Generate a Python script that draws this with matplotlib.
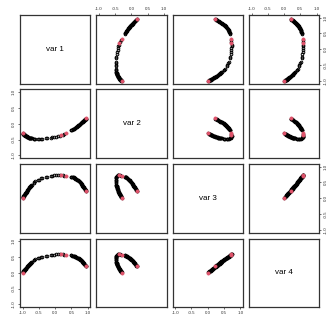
import numpy as np
import matplotlib
matplotlib.use('Agg')
import matplotlib.pyplot as plt

plt.rcParams['font.family'] = ['Liberation Sans', 'DejaVu Sans']

# points along the curve; the first 60 run along var 1,
# the rest fill in the two dense stretches at the ends
var1 = [-1.00, -0.99, -0.98, -0.97, -0.96, -0.95, -0.94, -0.93, -0.91, -0.90,
        -0.88, -0.86, -0.84, -0.82, -0.80, -0.78, -0.76, -0.74, -0.72, -0.66,
        -0.64, -0.62, -0.53, -0.51, -0.42, -0.40, -0.28, -0.26, -0.14, -0.10,
        -0.02, 0.04, 0.09, 0.14, 0.19, 0.24, 0.28, 0.33, 0.48, 0.52,
        0.55, 0.58, 0.61, 0.64, 0.67, 0.70, 0.72, 0.74, 0.76, 0.78,
        0.80, 0.82, 0.84, 0.86, 0.88, 0.90, 0.92, 0.93, 0.94, 0.95,
        -0.995, -0.985, -0.975, -0.965, -0.955, -0.945, -0.935, -0.92, -0.905,
        -0.89, -0.87, -0.85, -0.83, -0.81, -0.79, -0.77, -0.75, -0.73,
        0.50, 0.535, 0.565, 0.595, 0.625, 0.655, 0.685, 0.71, 0.73, 0.75,
        0.77, 0.79, 0.81, 0.83, 0.85, 0.87, 0.89, 0.91, 0.935, 0.945]
var2 = [-0.30, -0.31, -0.32, -0.33, -0.34, -0.35, -0.36, -0.37, -0.38, -0.39,
        -0.40, -0.41, -0.42, -0.43, -0.44, -0.45, -0.45, -0.46, -0.46, -0.47,
        -0.47, -0.48, -0.48, -0.48, -0.47, -0.47, -0.46, -0.46, -0.44, -0.43,
        -0.42, -0.41, -0.40, -0.39, -0.37, -0.35, -0.33, -0.30, -0.21, -0.19,
        -0.17, -0.15, -0.13, -0.11, -0.09, -0.06, -0.04, -0.03, -0.01, 0.01,
        0.03, 0.05, 0.06, 0.08, 0.10, 0.12, 0.14, 0.15, 0.16, 0.17,
        -0.305, -0.315, -0.325, -0.335, -0.345, -0.355, -0.365, -0.375, -0.385,
        -0.395, -0.405, -0.415, -0.425, -0.435, -0.445, -0.45, -0.455, -0.46,
        -0.20, -0.18, -0.16, -0.14, -0.12, -0.10, -0.075, -0.05, -0.035, -0.02,
        0.00, 0.02, 0.04, 0.055, 0.07, 0.09, 0.11, 0.13, 0.155, 0.165]
var3 = [0.00, 0.03, 0.05, 0.07, 0.09, 0.11, 0.12, 0.14, 0.17, 0.18,
        0.21, 0.24, 0.27, 0.30, 0.33, 0.35, 0.38, 0.40, 0.43, 0.49,
        0.51, 0.53, 0.58, 0.59, 0.63, 0.64, 0.67, 0.68, 0.70, 0.71,
        0.72, 0.72, 0.73, 0.73, 0.72, 0.72, 0.71, 0.71, 0.68, 0.67,
        0.66, 0.65, 0.63, 0.61, 0.59, 0.57, 0.55, 0.53, 0.51, 0.49,
        0.46, 0.43, 0.40, 0.37, 0.34, 0.31, 0.28, 0.26, 0.24, 0.22,
        0.015, 0.04, 0.06, 0.08, 0.10, 0.115, 0.13, 0.155, 0.175,
        0.195, 0.225, 0.255, 0.285, 0.315, 0.34, 0.365, 0.39, 0.415,
        0.675, 0.665, 0.655, 0.64, 0.62, 0.60, 0.58, 0.56, 0.54, 0.52,
        0.50, 0.475, 0.445, 0.415, 0.385, 0.355, 0.325, 0.295, 0.25, 0.23]
var4 = [0.00, 0.02, 0.04, 0.05, 0.07, 0.09, 0.10, 0.11, 0.13, 0.14,
        0.17, 0.19, 0.21, 0.24, 0.26, 0.28, 0.30, 0.32, 0.34, 0.39,
        0.41, 0.42, 0.46, 0.47, 0.50, 0.51, 0.54, 0.54, 0.56, 0.57,
        0.57, 0.58, 0.58, 0.58, 0.58, 0.58, 0.57, 0.57, 0.55, 0.54,
        0.53, 0.52, 0.51, 0.50, 0.48, 0.46, 0.45, 0.43, 0.42, 0.40,
        0.39, 0.37, 0.35, 0.32, 0.30, 0.27, 0.25, 0.23, 0.22, 0.20,
        0.01, 0.03, 0.045, 0.06, 0.08, 0.095, 0.105, 0.12, 0.135,
        0.155, 0.18, 0.20, 0.225, 0.25, 0.27, 0.29, 0.31, 0.33,
        0.545, 0.535, 0.525, 0.515, 0.505, 0.49, 0.47, 0.455, 0.44, 0.425,
        0.41, 0.395, 0.38, 0.36, 0.335, 0.31, 0.285, 0.26, 0.225, 0.21]
highlight = [0, 34, 37, 59]   # points drawn in red
labels = ['var 1', 'var 2', 'var 3', 'var 4']
ticks = [-1.0, -0.5, 0.0, 0.5, 1.0]
tick_labels = ['-1.0', '-0.5', '0.0', '0.5', '1.0']

data = np.array([var1, var2, var3, var4])
hl = np.zeros(len(var1), dtype=bool)
hl[highlight] = True

W, H = 333, 322
fig = plt.figure(figsize=(W / 100, H / 100), dpi=100)

left, top = 20, 15
pw, ph, gap = 70.3, 68.5, 6.0
lim = (-1.08, 1.08)

for i in range(4):
    for j in range(4):
        x0 = left + j * (pw + gap)
        y0 = top + i * (ph + gap)
        ax = fig.add_axes([x0 / W, 1 - (y0 + ph) / H, pw / W, ph / H])
        ax.set_xlim(lim)
        ax.set_ylim(lim)
        for s in ax.spines.values():
            s.set_linewidth(0.9)
            s.set_color('#333333')
        ax.tick_params(length=1.6, width=0.5, labelsize=3.2, pad=1.5,
                       direction='out', colors='#333333')
        ax.set_xticks(ticks)
        ax.set_yticks(ticks)
        ax.set_xticklabels(tick_labels)
        ax.set_yticklabels(tick_labels, rotation=90, va='center')
        # R pairs style: axes alternate around the outside
        show_top = (i == 0 and j % 2 == 1)
        show_bottom = (i == 3 and j % 2 == 0)
        show_left = (j == 0 and i % 2 == 1)
        show_right = (j == 3 and i % 2 == 0)
        ax.tick_params(axis='x', top=show_top, labeltop=show_top,
                       bottom=show_bottom, labelbottom=show_bottom)
        ax.tick_params(axis='y', left=show_left, labelleft=show_left,
                       right=show_right, labelright=show_right)

        if i == j:
            ax.text(0, 0, labels[i], ha='center', va='center', fontsize=5.8)
            continue

        x = data[j]
        y = data[i]
        ax.plot(x[~hl], y[~hl], 'o', ms=1.9, mfc='none', mec='black', mew=0.7)
        ax.plot(x[hl], y[hl], 'o', ms=2.3, mfc='#DF536B', mec='#DF536B', mew=0.5)

fig.savefig('out.png', dpi=100)
